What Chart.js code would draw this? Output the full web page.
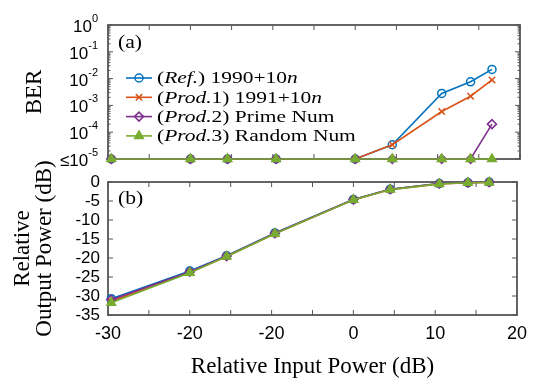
<!DOCTYPE html>
<html>
<head>
<meta charset="utf-8">
<script src="https://cdn.jsdelivr.net/npm/chart.js@4.4.0/dist/chart.umd.min.js"></script>
<style>
  html, body { margin: 0; padding: 0; background: #fff; }
  #wrap { position: relative; width: 535px; height: 381px; }
  canvas { position: absolute; left: 0; }
  #berChart { top: 0; }
  #powChart { top: 140px; }
</style>
</head>
<body>
<div id="wrap">
  <canvas id="berChart" width="535" height="170"></canvas>
  <canvas id="powChart" width="535" height="241"></canvas>
</div>
<script>
// relative input power (dB), same points for every series
const inputPower = [-29.6, -20, -15.5, -9.6, 0, 4.5, 10.5, 14, 16.6];

// (a) BER -- 1e-5 is the "<=10^-5" floor
const berRef   = [1e-5, 1e-5, 1e-5, 1e-5, 1e-5, 3.4e-5, 2.8e-3, 7.6e-3, 2.2e-2];
const berProd1 = [1e-5, 1e-5, 1e-5, 1e-5, 1e-5, 3.4e-5, 5.9e-4, 2.2e-3, 8.9e-3];
const berProd2 = [1e-5, 1e-5, 1e-5, 1e-5, 1e-5, 1e-5, 1e-5, 1e-5, 2.0e-4];
const berProd3 = [1e-5, 1e-5, 1e-5, 1e-5, 1e-5, 1e-5, 1e-5, 1e-5, 1e-5];

// (b) relative output power (dB)
const outRef   = [-30.7, -23.4, -19.4, -13.4, -4.6, -1.9, -0.4, -0.15, 0];
const outProd1 = [-31.4, -23.8, -19.6, -13.6, -4.7, -2.0, -0.5, -0.2, -0.1];
const outProd2 = [-31.0, -23.6, -19.5, -13.5, -4.6, -1.9, -0.4, -0.15, -0.05];
const outProd3 = [-31.8, -23.9, -19.6, -13.6, -4.7, -2.0, -0.5, -0.2, -0.1];

// legend text, [text, italic] pieces
const seriesLabels = [
  [['(', false], ['Ref.', true], [') 1990+10', false], ['n', true]],
  [['(', false], ['Prod.', true], ['1) 1991+10', false], ['n', true]],
  [['(', false], ['Prod.', true], ['2) Prime Num', false]],
  [['(', false], ['Prod.', true], ['3) Random Num', false]]
];

// tick labels as printed in the figure
const xTickLabels = { '-30': '-30', '-20': '-20', '-10': '-20', '0': '0', '10': '10', '20': '20' };
const berTickExps = [0, -1, -2, -3, -4, -5];

const styles = [
  { color: '#0072BD', point: 'circle',   radius: 4,   fill: 'rgba(0,0,0,0)' },
  { color: '#D95319', point: 'crossRot', radius: 4.5, fill: 'rgba(0,0,0,0)' },
  { color: '#7E2F8E', point: 'rectRot',  radius: 4.5, fill: 'rgba(0,0,0,0)' },
  { color: '#77AC30', point: 'triangle', radius: 5,   fill: '#77AC30' }
];

const SERIF = '"Liberation Serif", "Times New Roman", serif';
const SANS = '"Liberation Sans", Arial, sans-serif';
const FRAME = '#555';

function makeDatasets(series) {
  return series.map((ys, i) => ({
    data: inputPower.map((x, k) => ({ x: x, y: ys[k] })),
    borderColor: styles[i].color,
    backgroundColor: styles[i].fill,
    borderWidth: 1.6,
    pointStyle: styles[i].point,
    pointRadius: styles[i].radius,
    pointBorderWidth: 1.5,
    pointBackgroundColor: styles[i].fill,
    pointBorderColor: styles[i].color,
    tension: 0,
    clip: false,
    order: 3 - i   // later series drawn on top, like MATLAB
  }));
}

// text drawn a bit wide, like the exported figure
function drawPieces(ctx, pieces, x, y, size, sx) {
  ctx.save();
  ctx.translate(x, y);
  ctx.scale(sx, 1);
  ctx.textBaseline = 'middle';
  ctx.textAlign = 'left';
  let cx = 0;
  pieces.forEach(([txt, it]) => {
    ctx.font = (it ? 'italic ' : '') + size + 'px ' + SERIF;
    ctx.fillText(txt, cx, 0);
    cx += ctx.measureText(txt).width;
  });
  ctx.restore();
}

function drawMarker(ctx, st, x, y) {
  ctx.save();
  ctx.strokeStyle = st.color;
  ctx.fillStyle = st.fill;
  ctx.lineWidth = 1.5;
  Chart.helpers.drawPoint(ctx, { pointStyle: st.point, radius: st.radius, rotation: 0, borderWidth: 1.5 }, x, y);
  ctx.restore();
}

// MATLAB style box with inward ticks
const boxPlugin = {
  id: 'box',
  beforeDatasetsDraw(chart) {
    const { ctx, chartArea: a, scales } = chart;
    const xs = scales.x, ys = scales.y;
    ctx.save();
    ctx.strokeStyle = FRAME;
    ctx.lineWidth = 1;
    ctx.beginPath();
    for (let v = xs.min; v <= xs.max; v += 5) {
      const px = xs.getPixelForValue(v);
      ctx.moveTo(px, a.bottom); ctx.lineTo(px, a.bottom - 5);
      ctx.moveTo(px, a.top); ctx.lineTo(px, a.top + 5);
    }
    if (ys.type === 'logarithmic') {
      for (let e = -5; e <= 0; e++) {
        for (let m = 1; m <= 9; m++) {
          const v = m * Math.pow(10, e);
          if (v > 1) break;
          const py = ys.getPixelForValue(v);
          const len = m === 1 ? 5 : 2.5;
          ctx.moveTo(a.left, py); ctx.lineTo(a.left + len, py);
          ctx.moveTo(a.right, py); ctx.lineTo(a.right - len, py);
        }
      }
    } else {
      for (let v = ys.min; v <= ys.max; v += 5) {
        const py = ys.getPixelForValue(v);
        ctx.moveTo(a.left, py); ctx.lineTo(a.left + 5, py);
        ctx.moveTo(a.right, py); ctx.lineTo(a.right - 5, py);
      }
    }
    ctx.stroke();
    ctx.lineWidth = 1.8;
    ctx.strokeRect(a.left, a.top, a.right - a.left, a.bottom - a.top);
    ctx.restore();
  }
};

// log tick labels 10^k, panel tag and legend of (a)
const berDecor = {
  id: 'berDecor',
  afterDraw(chart) {
    const { ctx, chartArea: a, scales: { y } } = chart;
    ctx.save();
    ctx.fillStyle = '#000';
    ctx.textBaseline = 'alphabetic';
    ctx.textAlign = 'right';
    const right = 98;
    berTickExps.forEach(e => {
      const py = y.getPixelForValue(Math.pow(10, e));
      const ex = String(e);
      ctx.font = '11px ' + SANS;
      const ew = ctx.measureText(ex).width;
      ctx.fillText(ex, right, py - 3);
      ctx.font = '17px ' + SANS;
      const base = (e === -5 ? '\u226410' : '10');
      ctx.fillText(base, right - ew, py + 7);
    });
    ctx.restore();

    ctx.fillStyle = '#000';
    drawPieces(ctx, [['(a)', false]], a.left + 10, a.top + 18, 18, 1.2);

    seriesLabels.forEach((pieces, i) => {
      const ry = 78 + i * 19.3;
      ctx.save();
      ctx.strokeStyle = styles[i].color;
      ctx.lineWidth = 1.6;
      ctx.beginPath();
      ctx.moveTo(126, ry); ctx.lineTo(152, ry);
      ctx.stroke();
      ctx.restore();
      drawMarker(ctx, styles[i], 139, ry);
      ctx.fillStyle = '#000';
      drawPieces(ctx, pieces, 157, ry + 1, 16.5, 1.3);
    });
  }
};

const powDecor = {
  id: 'powDecor',
  afterDraw(chart) {
    const { ctx, chartArea: a } = chart;
    ctx.fillStyle = '#000';
    drawPieces(ctx, [['(b)', false]], a.left + 10, a.top + 17, 18, 1.2);
  }
};

const berChart = new Chart(document.getElementById('berChart'), {
  type: 'line',
  data: { datasets: makeDatasets([berRef, berProd1, berProd2, berProd3]) },
  options: {
    responsive: false,
    animation: false,
    devicePixelRatio: 1,
    layout: { padding: { left: 0, right: 15, top: 25, bottom: 11 } },
    plugins: { legend: { display: false }, tooltip: { enabled: false } },
    scales: {
      x: { type: 'linear', min: -30, max: 20, display: false },
      y: {
        type: 'logarithmic', min: 1e-5, max: 1,
        grid: { display: false, drawTicks: false },
        border: { display: false },
        ticks: { display: false },
        title: { display: true, text: 'BER', color: '#000',
                 font: { family: SERIF, size: 23 }, padding: { top: 21, bottom: 0 } },
        afterFit(scale) { scale.width = 108; }
      }
    }
  },
  plugins: [boxPlugin, berDecor]
});

const powChart = new Chart(document.getElementById('powChart'), {
  type: 'line',
  data: { datasets: makeDatasets([outRef, outProd1, outProd2, outProd3]) },
  options: {
    responsive: false,
    animation: false,
    devicePixelRatio: 1,
    layout: { padding: { left: 0, right: 15, top: 42, bottom: 0 } },
    plugins: { legend: { display: false }, tooltip: { enabled: false } },
    scales: {
      x: {
        type: 'linear', min: -30, max: 20,
        grid: { display: false, drawTicks: false },
        border: { display: false },
        ticks: {
          stepSize: 5, autoSkip: false, maxRotation: 0, padding: 8,
          color: '#000', font: { family: SANS, size: 18 },
          callback: (v) => xTickLabels[String(v)] || ''
        },
        title: { display: true, text: 'Relative Input Power (dB)', color: '#000',
                 font: { family: SERIF, size: 23 }, padding: { top: 0, bottom: 0 } },
        afterFit(scale) { scale.height = 66; }
      },
      y: {
        min: -35, max: 0,
        grid: { display: false, drawTicks: false },
        border: { display: false },
        ticks: { stepSize: 5, autoSkip: false, padding: 8, color: '#000', font: { family: SANS, size: 17 } },
        title: { display: true, text: ['Relative', 'Output Power (dB)'], color: '#000',
                 font: { family: SERIF, size: 23, lineHeight: 0.96 }, padding: { top: 12, bottom: 0 } },
        afterFit(scale) { scale.width = 108; }
      }
    }
  },
  plugins: [boxPlugin, powDecor]
});
</script>
</body>
</html>
